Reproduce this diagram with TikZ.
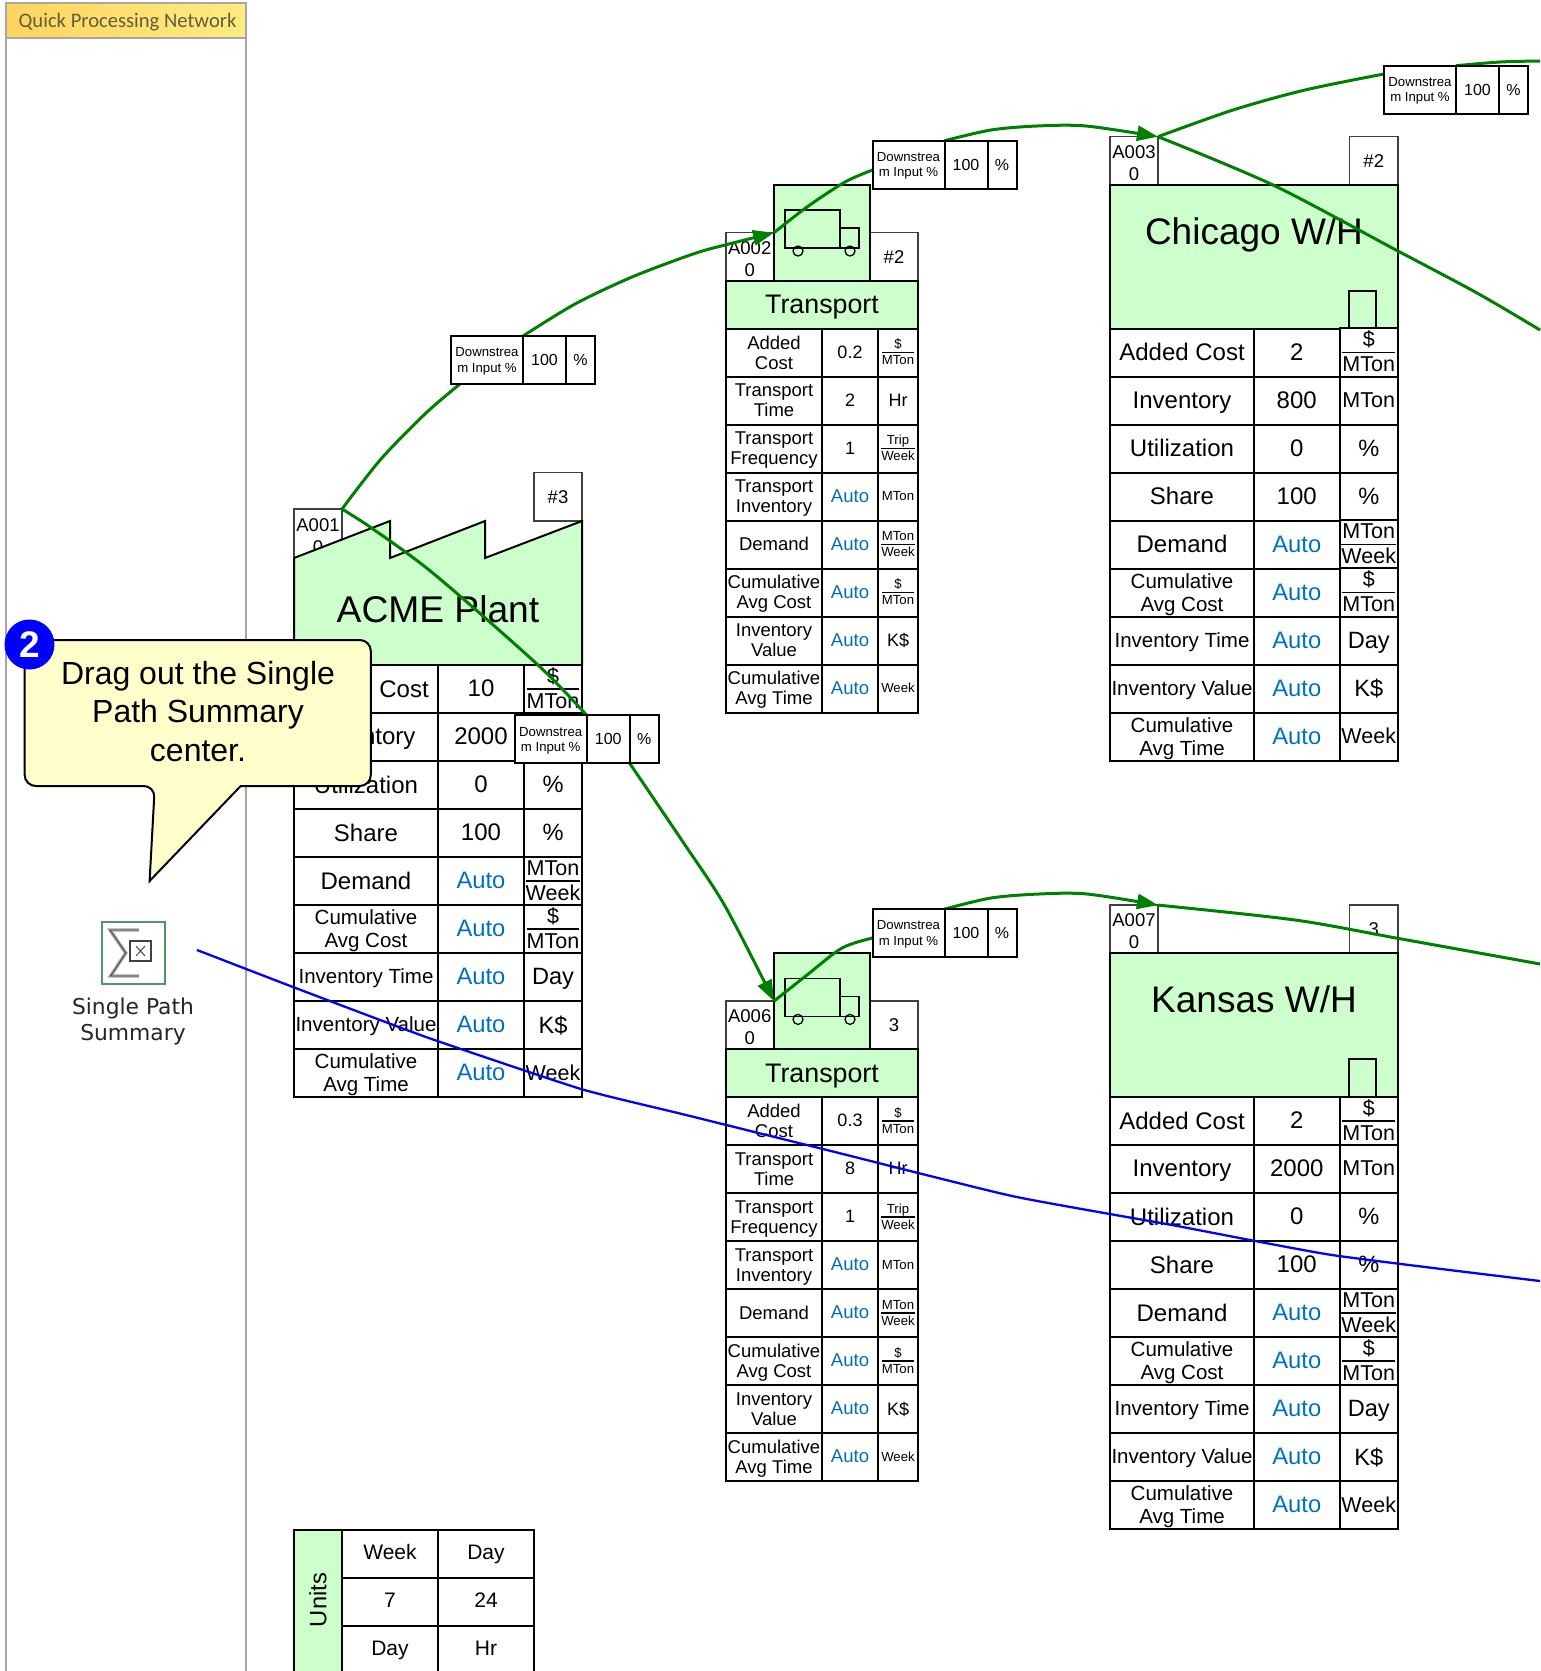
\documentclass[tikz,border=0pt]{standalone}
\usepackage{fontspec}
\setmainfont{Liberation Sans}
\newfontfamily\carlito{Carlito}
\newfontfamily\dejavu{DejaVu Sans}
\usetikzlibrary{arrows.meta,shapes.geometric}
\pgfdeclarelayer{top}
\pgfsetlayers{main,top}
\definecolor{paleg}{HTML}{CCFFCC}
\definecolor{autob}{HTML}{0070C0}
\definecolor{lineg}{HTML}{008000}
\definecolor{lineb}{HTML}{0000FF}
\definecolor{panelg}{HTML}{A6A6A6}
\definecolor{calloutf}{HTML}{FFFFCC}
\definecolor{tagline}{HTML}{404040}
\definecolor{titlel}{HTML}{FFD45F}
\definecolor{titler}{HTML}{FFEB80}
\definecolor{titlet}{HTML}{5F5F3C}
\setlength{\tabcolsep}{0pt}
\setlength{\arrayrulewidth}{1.5pt}
\newcommand{\ufrac}[2]{{\def\arraystretch{0}\begin{tabular}{@{}c@{}}\rule[-.24em]{0pt}{1.1em}#1\\\hline\rule[-.24em]{0pt}{1.1em}#2\end{tabular}}}
\newcommand{\idtext}[2]{\rule{0pt}{17.4pt}#1\\#2}
\newcommand{\hh}{\rule{0pt}{.9em}}
\def\rh{48}
\newcommand{\trow}[8]{%
 \node[cell,#3,minimum width={(\cB-\cA)*1pt},minimum height=48pt] (#1l) at ({(\cA+\cB)/2},{(#2)+\rh/2}) {#4};
 \node[cell,#5,minimum width={(\cC-\cB)*1pt},minimum height=48pt] (#1v) at ({(\cB+\cC)/2},{(#2)+\rh/2}) {#6};
 \node[cell,#7,minimum width={(\cD-\cC)*1pt},minimum height=48pt] (#1u) at ({(\cC+\cD)/2},{(#2)+\rh/2}) {#8};
}
% warehouse / plant table
\newcommand{\factable}[6]{%
 \trow{#1a}{#2}{biglab,one}{Added Cost}{bigval,one}{#3}{bigunit}{\ufrac{\$}{MTon}}
 \trow{#1b}{#2+48}{biglab,one}{Inventory}{bigval,one}{#4}{bigunit,one}{MTon}
 \trow{#1c}{#2+96}{biglab,one}{Utilization}{bigval,one}{#5}{bigone,one}{\%}
 \trow{#1d}{#2+144}{biglab,one}{Share}{bigval,one}{#6}{bigone,one}{\%}
 \trow{#1e}{#2+192}{biglab,one}{Demand}{bigauto,one}{Auto}{bigunit}{\ufrac{MTon}{Week}}
 \trow{#1f}{#2+240}{midlab}{\hh Cumulative\\Avg Cost}{bigauto,one}{Auto}{bigunit}{\ufrac{\$}{MTon}}
 \trow{#1g}{#2+288}{midlab,one}{Inventory Time}{bigauto,one}{Auto}{bigone,one}{Day}
 \trow{#1h}{#2+336}{midlab,one}{Inventory Value}{bigauto,one}{Auto}{bigone,one}{K\$}
 \trow{#1i}{#2+384}{midlab}{\hh Cumulative\\Avg Time}{bigauto,one}{Auto}{bigunit,one}{Week}
}
% transport table
\newcommand{\trktable}[5]{%
 \trow{#1a}{#2}{smlab}{Added\\Cost}{smval,one}{#3}{smfrac}{\ufrac{\$}{MTon}}
 \trow{#1b}{#2+48}{smlab}{Transport\\Time}{smval,one}{#4}{smunit,one}{Hr}
 \trow{#1c}{#2+96}{smlab}{\hh Transport\\Frequency}{smval,one}{#5}{smfrac}{\ufrac{Trip}{Week}}
 \trow{#1d}{#2+144}{smlab}{\hh Transport\\Inventory}{smauto,one}{Auto}{smfrac,one}{MTon}
 \trow{#1e}{#2+192}{smlab,one}{Demand}{smauto,one}{Auto}{smfrac}{\ufrac{MTon}{Week}}
 \trow{#1f}{#2+240}{smlab}{\hh Cumulative\\Avg Cost}{smauto,one}{Auto}{smfrac}{\ufrac{\$}{MTon}}
 \trow{#1g}{#2+288}{smlab}{Inventory\\Value}{smauto,one}{Auto}{smunit,one}{K\$}
 \trow{#1h}{#2+336}{smlab}{\hh Cumulative\\Avg Time}{smauto,one}{Auto}{smfrac,one}{Week}
}
% downstream input table
\newcommand{\dstable}[3]{%
 \node[cell,dsmall,minimum width=72pt,minimum height=48pt] (#11) at ({#2+36},{#3+24}) {\rule{0pt}{11.6pt}Downstrea\\m Input \%};
 \node[cell,dsval,minimum width=43pt,minimum height=48pt] (#12) at ({#2+93.5},{#3+24}) {100};
 \node[cell,dsval,minimum width=29pt,minimum height=48pt] (#13) at ({#2+129.5},{#3+24}) {\%};
}
\newcommand{\truck}[1]{%
 \draw[truckline] (785,{#1+210}) rectangle (840,{#1+248});
 \draw[truckline] (840,{#1+228}) rectangle (859,{#1+248});
 \draw[truckline] (798,{#1+251}) circle (5);
 \draw[truckline] (850,{#1+251}) circle (5);
}
\tikzset{
 cell/.style={draw=black,line width=2pt,fill=white,inner sep=0pt,outer sep=0pt,align=center,text=black},
 one/.style={text depth=1pt},
 biglab/.style={font=\fontsize{24}{26}\selectfont},
 midlab/.style={font=\fontsize{20.5}{23}\selectfont},
 smlab/.style={font=\fontsize{18.5}{20}\selectfont},
 bigval/.style={font=\fontsize{24}{26}\selectfont},
 bigauto/.style={font=\fontsize{23.8}{26}\selectfont,text=autob},
 bigunit/.style={font=\fontsize{21.5}{23.5}\selectfont},
 bigone/.style={font=\fontsize{23.6}{26}\selectfont},
 smval/.style={font=\fontsize{18}{20}\selectfont},
 smauto/.style={font=\fontsize{18.6}{20}\selectfont,text=autob},
 smunit/.style={font=\fontsize{18}{20}\selectfont},
 smfrac/.style={font=\fontsize{13.2}{15}\selectfont},
 dsmall/.style={font=\fontsize{13.2}{15.3}\selectfont},
 dsval/.style={font=\fontsize{16}{18}\selectfont},
 tagbox/.style={draw=tagline,line width=1.3pt,fill=white,inner sep=0pt,outer sep=0pt,align=center,font=\fontsize{18.5}{22}\selectfont},
 greenbox/.style={draw=black,line width=2pt,fill=paleg},
 truckline/.style={draw=black,line width=1.3pt},
 glink/.style={draw=lineg,line width=3pt},
 garrow/.style={glink,-{Triangle[length=21pt,width=15pt]}},
 blink/.style={draw=lineb,line width=2.3pt},
 unitcell/.style={draw=black,line width=2pt,inner sep=0pt,outer sep=0pt,minimum height=48pt,text depth=3pt,font=\fontsize{21}{23}\selectfont},
}
\begin{document}
\begin{tikzpicture}[x=1pt,y=-1pt]
\useasboundingbox (0,0) rectangle (1540,1671);
\fill[white] (0,0) rectangle (1540,1671);

% left panel
\node[draw=panelg,line width=2pt,minimum width=240pt,minimum height=1660pt,inner sep=0,outer sep=0] (panel) at (126,860) {};
\node[draw=panelg,line width=2pt,left color=titlel,right color=titler,minimum width=240pt,minimum height=34.5pt,inner sep=0,outer sep=0,text=titlet,font=\carlito\fontsize{20.6}{24}\selectfont] (title) at (126,20.5) {\hspace*{3pt}\rule{0pt}{18.4pt}Quick Processing Network};

% ACME plant
\node[tagbox,minimum width=48pt,minimum height=49pt] (a1id) at (318,533.5) {\idtext{A001}{0}};
\node[tagbox,minimum width=48pt,minimum height=48.6pt] (a1n) at (558,496.7) {\#3};
\draw[greenbox] (294,665) -- (294,558) -- (390,521) -- (390,558) -- (485,521) -- (485,558) -- (582,521) -- (582,665) -- cycle;
\node[inner sep=0,font=\fontsize{37.2}{40}\selectfont,text depth=0pt] (a1t) at (438,609) {ACME Plant};
\def\cA{294}\def\cB{438}\def\cC{524}\def\cD{582}
\factable{ac}{665}{10}{2000}{0}{100}

% Transport 1
\def\cA{726}\def\cB{822}\def\cC{878}\def\cD{918}
\node[tagbox,minimum width=47.5pt,minimum height=48pt] (t1id) at (749.7,256.7) {\idtext{A002}{0}};
\node[tagbox,minimum width=48pt,minimum height=48pt] (t1n) at (894,256.7) {\#2};
\node[greenbox,minimum width=96pt,minimum height=96pt,outer sep=0pt] (t1box) at (822,232.7) {};
\truck{0}
\node[greenbox,minimum width=192pt,minimum height=48pt,inner sep=0,outer sep=0,text depth=0pt,font=\fontsize{26.8}{28}\selectfont] (t1h) at (822,304.5) {Transport};
\trktable{ta}{328.5}{0.2}{2}{1}

% Chicago
\def\cA{1110}\def\cB{1254}\def\cC{1339.5}\def\cD{1398}
\node[tagbox,minimum width=48pt,minimum height=48pt] (c1id) at (1134,160.7) {\idtext{A003}{0}};
\node[tagbox,minimum width=48.5pt,minimum height=48pt] (c1n) at (1373.75,160.7) {\#2};
\node[greenbox,minimum width=288pt,minimum height=143.8pt,inner sep=0,outer sep=0] (c1box) at (1254,256.6) {};
\node[inner sep=0,font=\fontsize{37}{40}\selectfont,text depth=0pt] (c1t) at (1254,231) {Chicago W/H};
\draw[line width=1.6pt] (1349,328.5) -- (1349,290.7) -- (1376,290.7) -- (1376,328.5);
\factable{ca}{328.5}{2}{800}{0}{100}

% Transport 2
\def\cA{726}\def\cB{822}\def\cC{878}\def\cD{918}
\node[tagbox,minimum width=47.5pt,minimum height=48pt] (t2id) at (749.7,1025.1) {\idtext{A006}{0}};
\node[tagbox,minimum width=48pt,minimum height=48pt] (t2n) at (894,1025.1) {3};
\node[greenbox,minimum width=96pt,minimum height=96pt,outer sep=0pt] (t2box) at (822,1001.1) {};
\truck{768.4}
\node[greenbox,minimum width=192pt,minimum height=48pt,inner sep=0,outer sep=0,text depth=0pt,font=\fontsize{26.8}{28}\selectfont] (t2h) at (822,1073) {Transport};
\trktable{tb}{1097}{0.3}{8}{1}

% Kansas
\def\cA{1110}\def\cB{1254}\def\cC{1339.5}\def\cD{1398}
\node[tagbox,minimum width=48pt,minimum height=48pt] (k1id) at (1134,929.1) {\idtext{A007}{0}};
\node[tagbox,minimum width=48.5pt,minimum height=48pt] (k1n) at (1373.75,929.1) {3};
\node[greenbox,minimum width=288pt,minimum height=143.8pt,inner sep=0,outer sep=0] (k1box) at (1254,1025) {};
\node[inner sep=0,font=\fontsize{37}{40}\selectfont,text depth=0pt] (k1t) at (1254,999.4) {Kansas W/H};
\draw[line width=1.6pt] (1349,1097) -- (1349,1059.1) -- (1376,1059.1) -- (1376,1097);
\factable{ka}{1097}{2}{2000}{0}{100}

% Units table
\node[greenbox,minimum width=48pt,minimum height=144pt,inner sep=0,outer sep=0] (ubox) at (318,1601.5) {};
\node[rotate=90,inner sep=0,font=\fontsize{23.7}{26}\selectfont] (ut) at (318,1600) {Units};
\node[unitcell,minimum width=96pt] (u1) at (390,1553.5) {Week};
\node[unitcell,minimum width=96pt] (u2) at (486,1553.5) {Day};
\node[unitcell,minimum width=96pt] (u3) at (390,1601.5) {7};
\node[unitcell,minimum width=96pt] (u4) at (486,1601.5) {24};
\node[unitcell,minimum width=96pt] (u5) at (390,1649.5) {Day};
\node[unitcell,minimum width=96pt] (u6) at (486,1649.5) {Hr};

% everything above the links
\begin{pgfonlayer}{top}
\dstable{dA}{451}{336}
\dstable{dT}{872.5}{140.7}
\dstable{dC}{1384}{65.7}
\dstable{dB}{514.7}{715.3}
\dstable{dK}{872.5}{909.1}

% callout
\draw[draw=black,line width=2pt,fill=calloutf,rounded corners=11pt]
 (154.8,786) [sharp corners] -- (149.6,881) -- (240.7,786) [rounded corners=11pt] -- (370.8,786) -- (370.8,640) -- (24.7,640) -- (24.7,786) -- cycle;
\node[inner sep=0,align=center,font=\fontsize{32}{38.4}\selectfont] (ctext) at (198,711.5) {Drag out the Single\\Path Summary\\center.};
\node[circle,fill=lineb,minimum size=50pt,inner sep=0,outer sep=0,text=white,font=\bfseries\fontsize{37}{40}\selectfont] (badge) at (29.5,644.5) {2};

% icon
\node[draw={rgb,255:red,76;green,154;blue,95},line width=2pt,fill=white,minimum width=63pt,minimum height=62.5pt,inner sep=0,outer sep=0] (icon) at (133.5,953) {};
\draw[panelg,line width=3.4pt,line join=miter] (138.8,930) -- (110,930) -- (125.8,953) -- (110.6,976) -- (138.8,976);
\draw[black!70,line width=.9pt] (138.8,930) -- (110,930) -- (125.8,953) -- (110.6,976) -- (138.8,976);
\draw[black!75,line width=1.6pt] (130,941) rectangle (151,961);
\draw[black!70,line width=1pt] (136,946) -- (145,956) (136,956) -- (145,946);
\node[inner sep=0,align=center,text=black!85,font=\dejavu\fontsize{21.8}{25.8}\selectfont] (iconlab) at (133,1021.5) {Single Path\\Summary};
\end{pgfonlayer}

% free ends and entry points of the links
\coordinate (dAin) at (460,384);
\coordinate (dCin) at (1384,74);
\coordinate (dTin) at (872.5,170);
\coordinate (dKin) at (872.5,938);
\coordinate (edgeA) at (1540,61);
\coordinate (edgeB) at (1540,330);
\coordinate (edgeC) at (1540,964);
\coordinate (bluestart) at (197,950);
\coordinate (blueend) at (1540,1281);

% green links
\draw[glink] plot[smooth,tension=.5] coordinates {(a1id.north east) (381,459) (426,413) (dAin)};
\draw[garrow] plot[smooth,tension=.5] coordinates {(dA1.north east) (575,304) (632,277) (693,254) (725,245) (t1box.west |- t1id.north)};
\draw[glink] plot[smooth,tension=.5] coordinates {(t1box.west |- t1id.north) (807,207) (845,182) (dTin)};
\draw[garrow] plot[smooth,tension=.5] coordinates {(dT1.north east) (991,130) (1037,126) (1086,126) (c1id.north east)};
\draw[glink] plot[smooth,tension=.5] coordinates {(c1id.north east) (1233,110) (1305,90) (dCin)};
\draw[glink] plot[smooth,tension=.5] coordinates {(dC1.north east) (1500,62) (edgeA)};
\draw[glink] plot[smooth,tension=.5] coordinates {(c1id.north east) (1273,185) (1396,250) (1477,293) (edgeB)};
\draw[glink] plot[smooth,tension=.5] coordinates {(a1id.north east) (373,529) (434,574) (538,665) (dB1.north east)};
\draw[garrow] plot[smooth,tension=.5] coordinates {(dB2.south east) (683,842) (725,906) (t2box.west |- t2id.north)};
\draw[glink] plot[smooth,tension=.5] coordinates {(t2box.west |- t2id.north) (807,975) (842,948) (dKin)};
\draw[garrow] plot[smooth,tension=.5] coordinates {(dK1.north east) (991,898) (1039,894) (1087,894) (k1id.north east)};
\draw[glink] plot[smooth,tension=.5] coordinates {(k1id.north east) (1295,920) (1396,938) (edgeC)};
% blue link
\draw[blink] plot[smooth,tension=.3] coordinates {(bluestart) (293,987) (426,1037) (581,1089) (682,1114) (831,1151) (1012,1196) (1172,1225) (1332,1255) (blueend)};
\end{tikzpicture}
\end{document}
